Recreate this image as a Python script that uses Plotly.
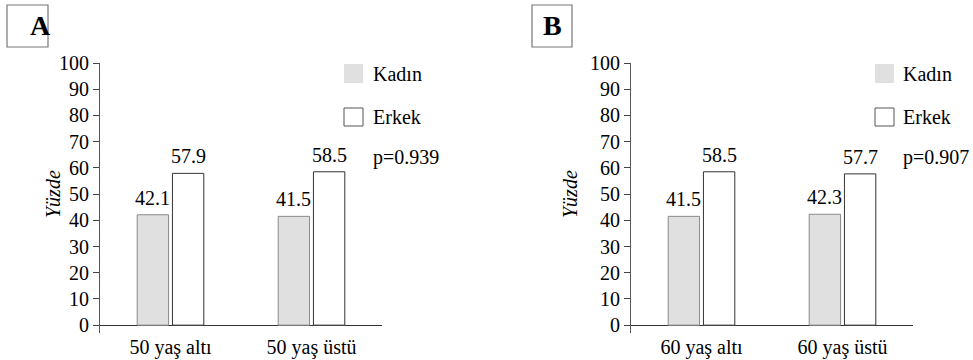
import plotly.graph_objects as go

# ---- data ----
panel_letters = ["A", "B"]
categories_a = ["50 yaş altı", "50 yaş üstü"]
categories_b = ["60 yaş altı", "60 yaş üstü"]
kadin_a = [42.1, 41.5]
erkek_a = [57.9, 58.5]
kadin_b = [41.5, 42.3]
erkek_b = [58.5, 57.7]
p_values = ["p=0.939", "p=0.907"]
series_names = ["Kadın", "Erkek"]
y_ticks = list(range(0, 101, 10))
y_title = "Yüzde"

FONT = "Liberation Serif, Times New Roman, serif"
FS = 20
W, H = 973, 360
GREY = "#e0e0e0"

fig = go.Figure()

panels = [
    dict(cats=categories_a, k=kadin_a, e=erkek_a, xa="x", ya="y", dom=[100 / W, 382 / W]),
    dict(cats=categories_b, k=kadin_b, e=erkek_b, xa="x2", ya="y2", dom=[631 / W, 913 / W]),
]

for i, p in enumerate(panels):
    fig.add_trace(go.Bar(x=p["cats"], y=p["k"], name=series_names[0], xaxis=p["xa"], yaxis=p["ya"],
                         marker=dict(color=GREY, line=dict(color="#8a8a8a", width=1)), showlegend=False))
    fig.add_trace(go.Bar(x=p["cats"], y=p["e"], name=series_names[1], xaxis=p["xa"], yaxis=p["ya"],
                         marker=dict(color="white", line=dict(color="#333333", width=1)), showlegend=False))
    for j in range(len(p["cats"])):
        for off, vals in ((-0.125, p["k"]), (0.125, p["e"])):
            fig.add_annotation(x=j + off, y=vals[j], xref=p["xa"], yref=p["ya"],
                               text=f"{vals[j]:.1f}", showarrow=False, yanchor="bottom", yshift=4,
                               font=dict(family=FONT, size=FS, color="black"))

ax_common = dict(showgrid=False, zeroline=False, showline=False, ticks="", automargin=False,
                 tickfont=dict(family=FONT, size=FS, color="black"), range=[-0.5, 1.5])
ay_common = dict(showgrid=False, range=[-3, 100], tickvals=y_ticks, ticks="outside", ticklen=6,
                 tickcolor="#444444", showline=True, linecolor="#555555", linewidth=1, automargin=False,
                 zeroline=True, zerolinecolor="#333333", zerolinewidth=1,
                 tickfont=dict(family=FONT, size=FS, color="black"),
                 domain=[(H - 333) / H, (H - 63) / H])

fig.update_layout(
    template="none",
    width=W, height=H, margin=dict(l=0, r=0, t=0, b=0, pad=0, autoexpand=False),
    paper_bgcolor="white", plot_bgcolor="white",
    font=dict(family=FONT, size=FS, color="black"),
    barmode="group", bargap=0.5, bargroupgap=0.11,
    xaxis=dict(domain=panels[0]["dom"], anchor="y", **ax_common),
    xaxis2=dict(domain=panels[1]["dom"], anchor="y2", **ax_common),
    yaxis=dict(anchor="x", **ay_common),
    yaxis2=dict(anchor="x2", **ay_common),
)

for xpix in (40, 570):
    fig.add_annotation(x=xpix / W, y=(H - 194) / H, xref="paper", yref="paper", text=f"<i>{y_title}</i>",
                       textangle=-90, showarrow=False, font=dict(family=FONT, size=FS, color="black"))

for letter, (x0, x1) in zip(panel_letters, [(7, 48), (532, 572)]):
    fig.add_shape(type="rect", xref="paper", yref="paper", x0=x0 / W, x1=x1 / W,
                  y0=(H - 47) / H, y1=(H - 5) / H, line=dict(color="#777777", width=1.2), fillcolor="white",
                  layer="below")
    fig.add_annotation(x=(x0 + x1) / 2 / W, y=(H - 26) / H, xref="paper", yref="paper",
                       text=f"<b>{letter}</b>", showarrow=False, yanchor="middle",
                       font=dict(family=FONT, size=28, color="black"))

for (sx, tx), pv in zip([(344, 371), (875, 901)], p_values):
    fig.add_shape(type="rect", xref="paper", yref="paper", x0=sx / W, x1=(sx + 19) / W,
                  y0=(H - 83) / H, y1=(H - 64) / H, line=dict(width=0), fillcolor=GREY)
    fig.add_shape(type="rect", xref="paper", yref="paper", x0=sx / W, x1=(sx + 19) / W,
                  y0=(H - 126) / H, y1=(H - 108) / H, line=dict(color="#555555", width=1), fillcolor="white")
    for name, ypix in zip(series_names, (74, 117)):
        fig.add_annotation(x=tx / W, y=(H - ypix) / H, xref="paper", yref="paper", text=name,
                           showarrow=False, xanchor="left", yanchor="middle",
                           font=dict(family=FONT, size=FS, color="black"))
    fig.add_annotation(x=tx / W, y=(H - 157) / H, xref="paper", yref="paper", text=pv,
                       showarrow=False, xanchor="left", yanchor="middle",
                       font=dict(family=FONT, size=FS, color="black"))

post = "document.documentElement.style.margin='0';document.body.style.margin='0';"
fig.write_html("out.html", config={"displayModeBar": False}, post_script=post)
